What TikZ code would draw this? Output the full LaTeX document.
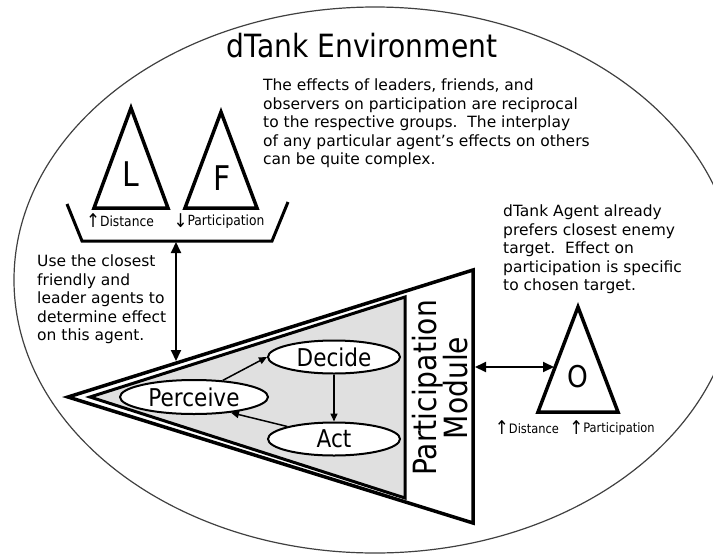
\documentclass[tikz,border=0pt]{standalone}
\usepackage{fontspec}
\setmainfont{DejaVu Sans}
\newfontfamily\condfont[FakeStretch=0.88]{DejaVu Sans}
\newcommand{\bigup}{{\fontsize{19}{19}\selectfont\raisebox{-1.5pt}{↑}}}
\newcommand{\bigdown}{{\fontsize{19}{19}\selectfont\raisebox{-1.5pt}{↓}}}
\usetikzlibrary{shapes.geometric,arrows.meta}
\begin{document}
\begin{tikzpicture}[x=1pt,y=-1pt,
  heavy/.style={line width=3.5pt, line join=miter},
  body/.style={anchor=north west, align=left, inner sep=0pt, font=\fontsize{15.5}{18.5}\selectfont},
  stepell/.style={draw, ellipse, line width=2pt, fill=white, inner sep=0pt, minimum width=132pt, minimum height=33pt, font=\condfont\fontsize{24.5}{26}\selectfont},
  small/.style={font=\condfont\fontsize{14}{16}\selectfont, inner sep=0pt},
  letter/.style={font=\condfont\fontsize{34}{36}\selectfont, inner sep=0pt},
  dbl/.style={line width=2pt, {Triangle[length=11pt,width=10pt]}-{Triangle[length=11pt,width=10pt]}},
  flow/.style={line width=1.5pt, -{Triangle[length=8pt,width=7pt]}},
]
\useasboundingbox (0,0) rectangle (713,555);
\begin{scope}
\clip (0,0) rectangle (713,555);
\draw[line width=1.2pt, black!75] (375,280) ellipse [x radius=361, y radius=273];
\end{scope}

\node[font=\condfont\fontsize{32}{34}\selectfont] (title) at (362,46) {dTank Environment};

\node[body] (note1) at (263,79) {The effects of leaders, friends, and\\observers on participation are reciprocal\\to the respective groups.\ \ The interplay\\of any particular agent’s effects on others\\can be quite complex.};
\node[body] (note2) at (503,205) {dTank Agent already\\prefers closest enemy\\target.\ \ Effect on\\participation is specific\\to chosen target.};
\node[body] (note3) at (37,255) {Use the closest\\friendly and\\leader agents to\\determine effect\\on this agent.};

% L and F agents
\draw[heavy] (131,108) -- (168,208) -- (94,208) -- cycle;
\draw[heavy] (221,112) -- (257,208) -- (185,208) -- cycle;
\node[letter] (L) at (131,174) {L};
\node[letter] (F) at (222,178) {F};
\draw[line width=3pt] (67,204) -- (82,241) -- (272,241) -- (288,202);
\node[small] (ldist) at (120,221) {\bigup Distance};
\node[small] (lpart) at (219,221) {\bigdown Participation};

% participation module
\draw[heavy] (68,397) -- (473,270) -- (473,523) -- cycle;
\draw[line width=3pt, fill=black!12, line join=miter] (90,397) -- (405,297) -- (405,498) -- cycle;
\node[rotate=90, align=center, font=\condfont\fontsize{32}{31}\selectfont, inner sep=0pt] (mod) at (440,388) {Participation\\Module};

\node[stepell, minimum width=148pt, minimum height=34pt] (perc) at (194,397) {Perceive};
\node[stepell] (dec) at (334,357) {Decide};
\node[stepell] (act) at (334,439) {Act};
\draw[flow] (perc.30) -- (dec.west);
\draw[flow] (dec.south) -- (act.north);
\draw[flow] (act.165) -- (perc.-23);

% O agent
\draw[heavy] (578,307) -- (618,412) -- (538,412) -- cycle;
\node[letter, font=\condfont\fontsize{30}{32}\selectfont] (O) at (578,377) {O};
\node[small, font=\condfont\fontsize{13}{15}\selectfont] (odist) at (527,428) {\bigup Distance};
\node[small, font=\condfont\fontsize{13}{15}\selectfont] (opart) at (612,428) {\bigup Participation};

% connectors
\coordinate (trayb) at (176,242);
\coordinate (modtop) at (176,361);
\draw[dbl] (trayb) -- (modtop);
\coordinate (modright) at (475,367);
\coordinate (oleft) at (554,367);
\draw[dbl] (modright) -- (oleft);
\end{tikzpicture}
\end{document}
